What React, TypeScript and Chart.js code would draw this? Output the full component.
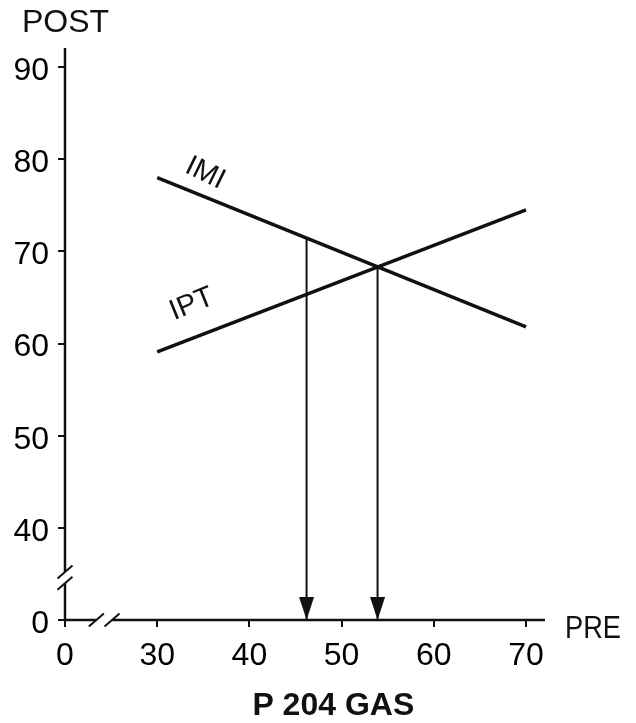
import React, { useEffect, useRef } from 'react';
import { Chart, registerables } from 'chart.js';

Chart.register(...registerables);

// ---- data ----
const X_TICK_VALUES = [20, 30, 40, 50, 60, 70];
const X_TICK_LABELS = ['0', '30', '40', '50', '60', '70'];
const Y_TICK_VALUES = [30, 40, 50, 60, 70, 80, 90];
const Y_TICK_LABELS = ['0', '40', '50', '60', '70', '80', '90'];

const PRE = [30, 70];
const IMI_POST = [78.0, 61.8];
const IPT_POST = [59.1, 74.5];

const ARROW_PRE = [46.2, 53.9];
const ARROW_TOP = [71.4, 68.3];
const ARROW_BOTTOM = 30;

const X_RANGE = [20, 72.06];
const Y_RANGE = [30, 92.07];
const X_BREAK = [23.4, 25.1];
const Y_BREAK = [35.2, 34.0];

const SERIES_NAMES = ['IMI', 'IPT'];
const LABEL_AT_PRE = [34.3, 35.0];

const INK = '#111';
const FONT = '"Liberation Sans", Arial, Helvetica, sans-serif';

function interp(xs: number[], ys: number[], x: number) {
  const t = (x - xs[0]) / (xs[1] - xs[0]);
  return ys[0] + t * (ys[1] - ys[0]);
}

const decorPlugin = {
  id: 'decor',
  afterDatasetsDraw(chart: any) {
    const ctx = chart.ctx as CanvasRenderingContext2D;
    const xs = chart.scales.x;
    const ys = chart.scales.y;
    const ca = chart.chartArea;
    ctx.save();
    ctx.strokeStyle = INK;
    ctx.fillStyle = INK;
    ctx.lineWidth = 2.5;

    const seg = (x1: number, y1: number, x2: number, y2: number) => {
      ctx.beginPath();
      ctx.moveTo(x1, y1);
      ctx.lineTo(x2, y2);
      ctx.stroke();
    };
    const slash = (cx: number, cy: number) => seg(cx - 7.5, cy + 6.5, cx + 7.5, cy - 6.5);

    // y axis with break
    const ax = xs.getPixelForValue(X_RANGE[0]);
    const yb1 = ys.getPixelForValue(Y_BREAK[0]);
    const yb0 = ys.getPixelForValue(Y_BREAK[1]);
    seg(ax, ca.top, ax, yb1);
    seg(ax, yb0, ax, ca.bottom);
    ctx.lineWidth = 2;
    slash(ax, yb1);
    slash(ax, yb0);

    // x axis with break
    ctx.lineWidth = 2.5;
    const ay = ys.getPixelForValue(Y_RANGE[0]);
    const xb0 = xs.getPixelForValue(X_BREAK[0]);
    const xb1 = xs.getPixelForValue(X_BREAK[1]);
    seg(ca.left, ay, xb0, ay);
    seg(xb1, ay, ca.right, ay);
    ctx.lineWidth = 2;
    slash(xb0, ay);
    slash(xb1, ay);

    // arrowheads
    ARROW_PRE.forEach((x) => {
      const px = xs.getPixelForValue(x);
      const py = ys.getPixelForValue(ARROW_BOTTOM);
      ctx.beginPath();
      ctx.moveTo(px, py);
      ctx.lineTo(px - 7.5, py - 23);
      ctx.lineTo(px + 7.5, py - 23);
      ctx.closePath();
      ctx.fill();
    });

    // series labels
    const series = [IMI_POST, IPT_POST];
    const dist = [22, 31.8];
    const rot = [26, -22];
    ctx.font = `29px ${FONT}`;
    ctx.textAlign = 'center';
    ctx.textBaseline = 'middle';
    series.forEach((s, i) => {
      const p0x = xs.getPixelForValue(PRE[0]);
      const p0y = ys.getPixelForValue(s[0]);
      const p1x = xs.getPixelForValue(PRE[1]);
      const p1y = ys.getPixelForValue(s[1]);
      const a = Math.atan2(p1y - p0y, p1x - p0x);
      const lx = xs.getPixelForValue(LABEL_AT_PRE[i]);
      const ly = ys.getPixelForValue(interp(PRE, s, LABEL_AT_PRE[i]));
      const cx = lx + dist[i] * Math.sin(a);
      const cy = ly - dist[i] * Math.cos(a);
      ctx.save();
      ctx.translate(cx, cy);
      ctx.rotate((rot[i] * Math.PI) / 180);
      ctx.fillText(SERIES_NAMES[i], 0, 0);
      ctx.restore();
    });

    // axis titles
    ctx.textBaseline = 'alphabetic';
    ctx.textAlign = 'left';
    ctx.font = `32px ${FONT}`;
    ctx.fillText('POST', ca.left - 43, ca.top - 16);

    ctx.save();
    ctx.translate(ca.right + 20, ca.bottom + 18);
    ctx.scale(0.85, 1);
    ctx.fillText('PRE', 0, 0);
    ctx.restore();

    ctx.font = `bold 32px ${FONT}`;
    ctx.textAlign = 'center';
    ctx.fillText('P 204 GAS', xs.getPixelForValue(49.1), ca.bottom + 95);

    ctx.restore();
  },
};

export default function App() {
  const ref = useRef<HTMLCanvasElement | null>(null);

  useEffect(() => {
    if (!ref.current) return;
    const lineDs = (post: number[], width: number) => ({
      type: 'line' as const,
      data: PRE.map((x, i) => ({ x, y: post[i] })),
      borderColor: INK,
      borderWidth: width,
      pointRadius: 0,
      showLine: true,
      fill: false,
      clip: false as any,
    });
    const arrowDs = ARROW_PRE.map((x, i) => ({
      type: 'line' as const,
      data: [
        { x, y: ARROW_TOP[i] },
        { x, y: ARROW_BOTTOM },
      ],
      borderColor: INK,
      borderWidth: 2,
      pointRadius: 0,
      showLine: true,
      fill: false,
      clip: false as any,
    }));

    const tickFont = { family: FONT, size: 32 };
    const chart = new Chart(ref.current, {
      type: 'scatter',
      data: {
        datasets: [lineDs(IMI_POST, 3.5), lineDs(IPT_POST, 3.5), ...arrowDs] as any,
      },
      options: {
        responsive: false,
        animation: false,
        events: [],
        layout: { padding: { top: 48, right: 91, bottom: 0, left: 0 } },
        plugins: {
          legend: { display: false },
          tooltip: { enabled: false },
          title: { display: false },
        },
        scales: {
          x: {
            type: 'linear',
            min: X_RANGE[0],
            max: X_RANGE[1],
            afterBuildTicks: (scale: any) => {
              scale.ticks = X_TICK_VALUES.map((v) => ({ value: v }));
            },
            afterFit: (scale: any) => {
              scale.height = 103;
            },
            border: { display: false },
            grid: {
              display: true,
              drawOnChartArea: false,
              drawTicks: true,
              tickLength: 7,
              lineWidth: 2,
              color: INK,
            },
            ticks: {
              autoSkip: false,
              maxRotation: 0,
              padding: 10,
              color: '#000',
              font: tickFont,
              callback: (v: any) => X_TICK_LABELS[X_TICK_VALUES.indexOf(Number(v))],
            },
          },
          y: {
            type: 'linear',
            min: Y_RANGE[0],
            max: Y_RANGE[1],
            afterBuildTicks: (scale: any) => {
              scale.ticks = Y_TICK_VALUES.map((v) => ({ value: v }));
            },
            afterFit: (scale: any) => {
              scale.width = 65;
            },
            border: { display: false },
            grid: {
              display: true,
              drawOnChartArea: false,
              drawTicks: true,
              tickLength: 7,
              lineWidth: 2,
              color: INK,
            },
            ticks: {
              autoSkip: false,
              padding: 9,
              labelOffset: 4,
              color: '#000',
              font: tickFont,
              callback: (v: any) => Y_TICK_LABELS[Y_TICK_VALUES.indexOf(Number(v))],
            },
          },
        },
      },
      plugins: [decorPlugin],
    });
    return () => chart.destroy();
  }, []);

  return (
    <div style={{ position: 'absolute', left: 0, top: 0, width: 636, height: 723, background: '#fff' }}>
      <canvas ref={ref} width={636} height={723} style={{ display: 'block' }} />
    </div>
  );
}
